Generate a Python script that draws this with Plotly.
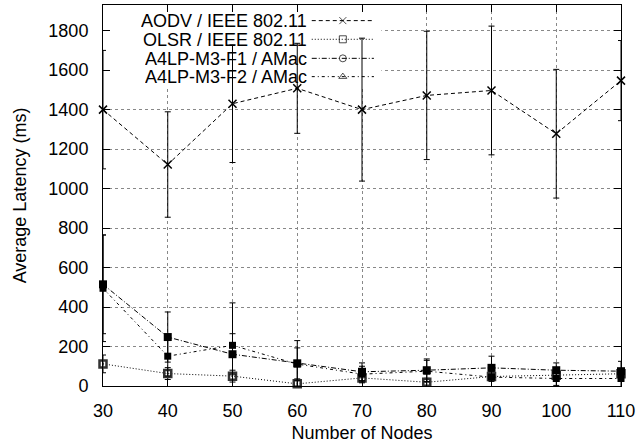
import plotly.graph_objects as go

# data
nodes = [30, 40, 50, 60, 70, 80, 90, 100, 110]

aodv = [1400, 1122, 1430, 1508, 1400, 1472, 1497, 1278, 1547]
aodv_err = [300, 267, 298, 228, 362, 325, 326, 326, 203]

olsr = [112, 63, 50, 11, 41, 19, 48, 55, 62]
olsr_err = [45, 30, 30, 25, 25, 20, 25, 25, 20]

f1 = [515, 248, 161, 115, 72, 80, 92, 80, 75]
f1_err = [250, 127, 104, 115, 45, 57, 59, 37, 50]

f2 = [495, 151, 206, 111, 60, 75, 45, 38, 38]
f2_err = [270, 100, 215, 82, 40, 55, 60, 35, 45]

names = ["AODV / IEEE 802.11", "OLSR / IEEE 802.11",
         "A4LP-M3-F1 / AMac", "A4LP-M3-F2 / AMac"]

FONT = "Liberation Sans, Arial, sans-serif"
dashes = ["4px,3px", "1px,2px", "5px,2px,1px,2px", "3px,3px,1px,3px"]
key_symbols = ["x-thin-open", "square-open", "circle-open", "triangle-up-open"]

series = [
    (aodv, aodv_err, dict(symbol="x-thin-open", size=8, color="black",
                          line=dict(width=1.5, color="black"))),
    (olsr, olsr_err, dict(symbol="square-open", size=7, color="#333",
                          line=dict(width=2.5, color="#333"))),
    (f1, f1_err, dict(symbol="square", size=8, color="black")),
    (f2, f2_err, dict(symbol="square", size=7, color="black")),
]

fig = go.Figure()

for (vals, err, mk), dash in zip(series, dashes):
    fig.add_trace(go.Scatter(
        x=nodes, y=vals,
        mode="lines+markers",
        line=dict(color="black", width=1, dash=dash),
        marker=mk,
        error_y=dict(type="data", array=err, visible=True,
                     color="black", thickness=1, width=3),
        showlegend=False,
        cliponaxis=False,
    ))

# hand-made gnuplot style key (text right aligned, sample on the right)
key_rows = [0.959, 0.910, 0.860, 0.812]
for name, dash, sym, yy in zip(names, dashes, key_symbols, key_rows):
    fig.add_trace(go.Scatter(
        x=[0.403, 0.463, 0.523], y=[yy] * 3,
        xaxis="x2", yaxis="y2",
        mode="lines+markers",
        line=dict(color="black", width=1, dash=dash),
        marker=dict(symbol=sym, size=[0, 7, 0], color="black",
                    line=dict(width=1, color="black")),
        showlegend=False, hoverinfo="skip",
    ))
    fig.add_annotation(x=0.395, y=yy, xref="x2", yref="y2",
                       text=name, showarrow=False, xanchor="right",
                       yanchor="middle", height=17, borderpad=0,
                       font=dict(size=18, color="black"))

# opaque key box hides the grid under it
fig.add_shape(type="rect", xref="x", yref="y", x0=30, x1=73, y0=1518, y1=1930,
              fillcolor="white", line=dict(width=0), layer="between")

axis_common = dict(
    showline=True, linecolor="black", linewidth=1, mirror="ticks",
    ticks="inside", ticklen=7, tickcolor="black", tickwidth=1,
    showgrid=True, gridcolor="#888", griddash="dot", gridwidth=1,
    zeroline=False, tickfont=dict(size=18, color="black"),
)

fig.update_layout(
    width=639, height=444,
    margin=dict(l=103, r=18, t=5, b=58),
    plot_bgcolor="white", paper_bgcolor="white",
    font=dict(family=FONT, size=18, color="black"),
    xaxis=dict(range=[30, 110], tickvals=nodes, ticklabelstandoff=8,
               title=dict(text="Number of Nodes", standoff=6,
                          font=dict(size=18)),
               **axis_common),
    yaxis=dict(range=[0, 1930], tickvals=list(range(0, 1801, 200)),
               ticklabelstandoff=10,
               title=dict(text="Average Latency (ms)", standoff=17,
                          font=dict(size=18)),
               **axis_common),
    xaxis2=dict(overlaying="x", range=[0, 1], visible=False),
    yaxis2=dict(overlaying="y", range=[0, 1], visible=False),
)

fig.write_html("out.html",
               config={"displayModeBar": False},
               post_script="document.body.style.margin='0';")
